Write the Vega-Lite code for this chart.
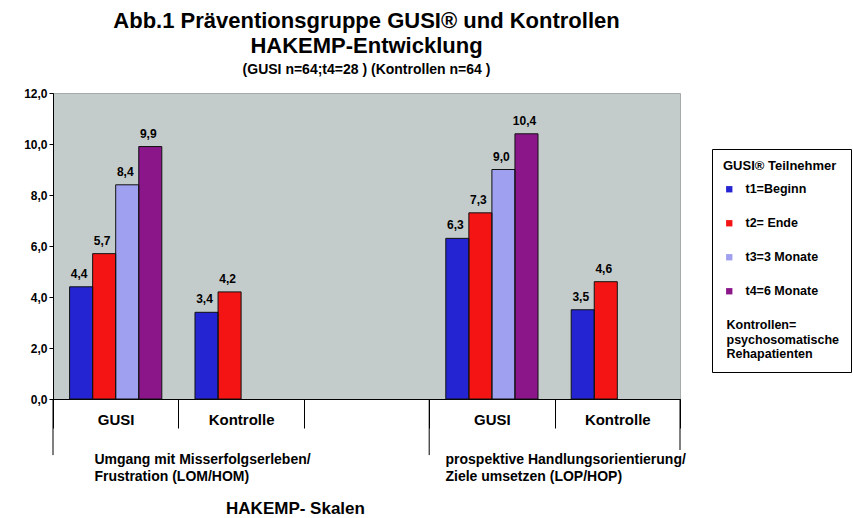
{
  "$schema": "https://vega.github.io/schema/vega-lite/v6.json",
  "width": 627,
  "height": 306,
  "autosize": {"type": "none"},
  "padding": {"left": 53, "top": 93, "right": 173, "bottom": 119},
  "background": "white",
  "config": {
    "font": "Liberation Sans",
    "locale": {"number": {"decimal": ",", "thousands": ".", "grouping": [3], "currency": ["", " €"]}},
    "view": {"fill": "#c3cbcb", "stroke": "#a3abab"},
    "axis": {"domainColor": "#000", "tickColor": "#000", "labelColor": "#000", "titleColor": "#000", "grid": false}
  },
  "title": {
    "text": ["Abb.1 Präventionsgruppe GUSI® und  Kontrollen", "HAKEMP-Entwicklung"],
    "subtitle": "(GUSI n=64;t4=28 ) (Kontrollen n=64  )",
    "anchor": "middle",
    "frame": "group",
    "fontSize": 22,
    "fontWeight": "bold",
    "lineHeight": 25,
    "color": "#000",
    "subtitleFontSize": 14,
    "subtitleFontWeight": "bold",
    "subtitleColor": "#000",
    "subtitlePadding": 5,
    "offset": 9
  },
  "datasets": {
    "werte": [
      {"skala": "s1", "zeitpunkt": "t1", "wert": 4.4},
      {"skala": "s1", "zeitpunkt": "t2", "wert": 5.7},
      {"skala": "s1", "zeitpunkt": "t3", "wert": 8.4},
      {"skala": "s1", "zeitpunkt": "t4", "wert": 9.9},
      {"skala": "s2", "zeitpunkt": "t1", "wert": 3.4},
      {"skala": "s2", "zeitpunkt": "t2", "wert": 4.2},
      {"skala": "s4", "zeitpunkt": "t1", "wert": 6.3},
      {"skala": "s4", "zeitpunkt": "t2", "wert": 7.3},
      {"skala": "s4", "zeitpunkt": "t3", "wert": 9.0},
      {"skala": "s4", "zeitpunkt": "t4", "wert": 10.4},
      {"skala": "s5", "zeitpunkt": "t1", "wert": 3.5},
      {"skala": "s5", "zeitpunkt": "t2", "wert": 4.6}
    ],
    "trenner": [
      {"skala": "s1", "kante": "start"},
      {"skala": "s4", "kante": "start"},
      {"skala": "s5", "kante": "ende"}
    ],
    "skalen": [
      {"skala": "s1", "text": "Umgang mit Misserfolgserleben/\nFrustration (LOM/HOM)"},
      {"skala": "s4", "text": "prospektive Handlungsorientierung/\nZiele umsetzen (LOP/HOP)"}
    ]
  },
  "layer": [
    {
      "data": {"name": "werte"},
      "mark": {"type": "bar"},
      "encoding": {
        "x": {
          "field": "skala", "type": "nominal",
          "scale": {"domain": ["s1", "s2", "s3", "s4", "s5"], "paddingInner": 0, "paddingOuter": 0},
          "axis": {
            "title": "HAKEMP- Skalen",
            "labelExpr": "{'s1':'GUSI','s2':'Kontrolle','s3':'','s4':'GUSI','s5':'Kontrolle'}[datum.value]",
            "labelAngle": 0,
            "labelFontSize": 15,
            "labelFontWeight": "bold",
            "labelBaseline": "middle",
            "labelPadding": -9,
            "tickBand": "extent",
            "tickSize": 29,
            "titleFontSize": 17,
            "titleFontWeight": "bold",
            "titleX": 242,
            "titleY": 109,
            "titleBaseline": "middle"
          }
        },
        "xOffset": {"field": "zeitpunkt", "type": "nominal", "scale": {"domain": ["t1", "t2", "t3", "t4"], "paddingInner": 0, "paddingOuter": 0.72}},
        "y": {
          "field": "wert", "type": "quantitative",
          "scale": {"domain": [0, 12], "nice": false},
          "axis": {"title": null, "values": [0, 2, 4, 6, 8, 10, 12], "format": ".1f", "labelFontSize": 12, "labelFontWeight": "bold", "tickSize": 4, "labelPadding": 2}
        },
        "color": {
          "field": "zeitpunkt", "type": "nominal",
          "scale": {"domain": ["t1", "t2", "t3", "t4", "K"], "range": ["#2424d2", "#f51414", "#a0a0f0", "#8a168a", "#ffffff"]},
          "legend": {
            "title": "GUSI® Teilnehmer",
            "orient": "none",
            "legendX": 659,
            "legendY": 56,
            "direction": "vertical",
            "strokeColor": "#000",
            "fillColor": "#fff",
            "padding": 11,
            "titleFontSize": 13,
            "titleFontWeight": "bold",
            "titleColor": "#000",
            "titlePadding": 10,
            "labelFontSize": 12.5,
            "labelFontWeight": "bold",
            "labelColor": "#000",
            "labelLimit": 220,
            "symbolType": "square",
            "symbolSize": 40,
            "symbolStrokeWidth": 0,
            "labelOffset": 10,
            "rowPadding": 21,
            "labelExpr": "datum.value == 'K' ? ['Kontrollen=', 'psychosomatische', 'Rehapatienten'] : {'t1':'t1=Beginn','t2':'t2= Ende','t3':'t3=3 Monate','t4':'t4=6 Monate'}[datum.value]",
            "encoding": {"labels": {"dx": {"condition": {"test": "datum.value == 'K'", "value": -19}, "value": 0}}}
          }
        }
      }
    },
    {
      "data": {"name": "werte"},
      "mark": {"type": "bar", "filled": false, "stroke": "#111", "strokeWidth": 1},
      "encoding": {
        "x": {"field": "skala", "type": "nominal"},
        "xOffset": {"field": "zeitpunkt", "type": "nominal"},
        "y": {"field": "wert", "type": "quantitative"}
      }
    },
    {
      "data": {"name": "werte"},
      "mark": {"type": "text", "baseline": "alphabetic", "dy": -9, "dx": -2, "fontSize": 12, "fontWeight": "bold", "color": "#000"},
      "encoding": {
        "x": {"field": "skala", "type": "nominal"},
        "xOffset": {"field": "zeitpunkt", "type": "nominal"},
        "y": {"field": "wert", "type": "quantitative"},
        "text": {"field": "wert", "type": "quantitative", "format": ".1f"}
      }
    },
    {
      "data": {"name": "trenner"},
      "transform": [{"filter": "datum.kante == 'start'"}],
      "mark": {"type": "rule", "color": "#000", "strokeWidth": 1},
      "encoding": {
        "x": {"field": "skala", "type": "nominal", "bandPosition": 0},
        "y": {"datum": 0},
        "y2": {"datum": -2.2}
      }
    },
    {
      "data": {"name": "trenner"},
      "transform": [{"filter": "datum.kante == 'ende'"}],
      "mark": {"type": "rule", "color": "#000", "strokeWidth": 1},
      "encoding": {
        "x": {"field": "skala", "type": "nominal", "bandPosition": 1},
        "y": {"datum": 0},
        "y2": {"datum": -2.0}
      }
    },
    {
      "data": {"name": "skalen"},
      "transform": [{"filter": "datum.skala == 's1'"}],
      "mark": {"type": "text", "align": "left", "baseline": "top", "lineBreak": "\n", "fontSize": 14, "fontWeight": "bold", "lineHeight": 17, "color": "#000"},
      "encoding": {
        "x": {"field": "skala", "type": "nominal", "bandPosition": 0.33},
        "y": {"datum": -2.1},
        "text": {"field": "text"}
      }
    },
    {
      "data": {"name": "skalen"},
      "transform": [{"filter": "datum.skala == 's4'"}],
      "mark": {"type": "text", "align": "left", "baseline": "top", "lineBreak": "\n", "fontSize": 14, "fontWeight": "bold", "lineHeight": 17, "color": "#000"},
      "encoding": {
        "x": {"field": "skala", "type": "nominal", "bandPosition": 0.13},
        "y": {"datum": -2.1},
        "text": {"field": "text"}
      }
    }
  ]
}
